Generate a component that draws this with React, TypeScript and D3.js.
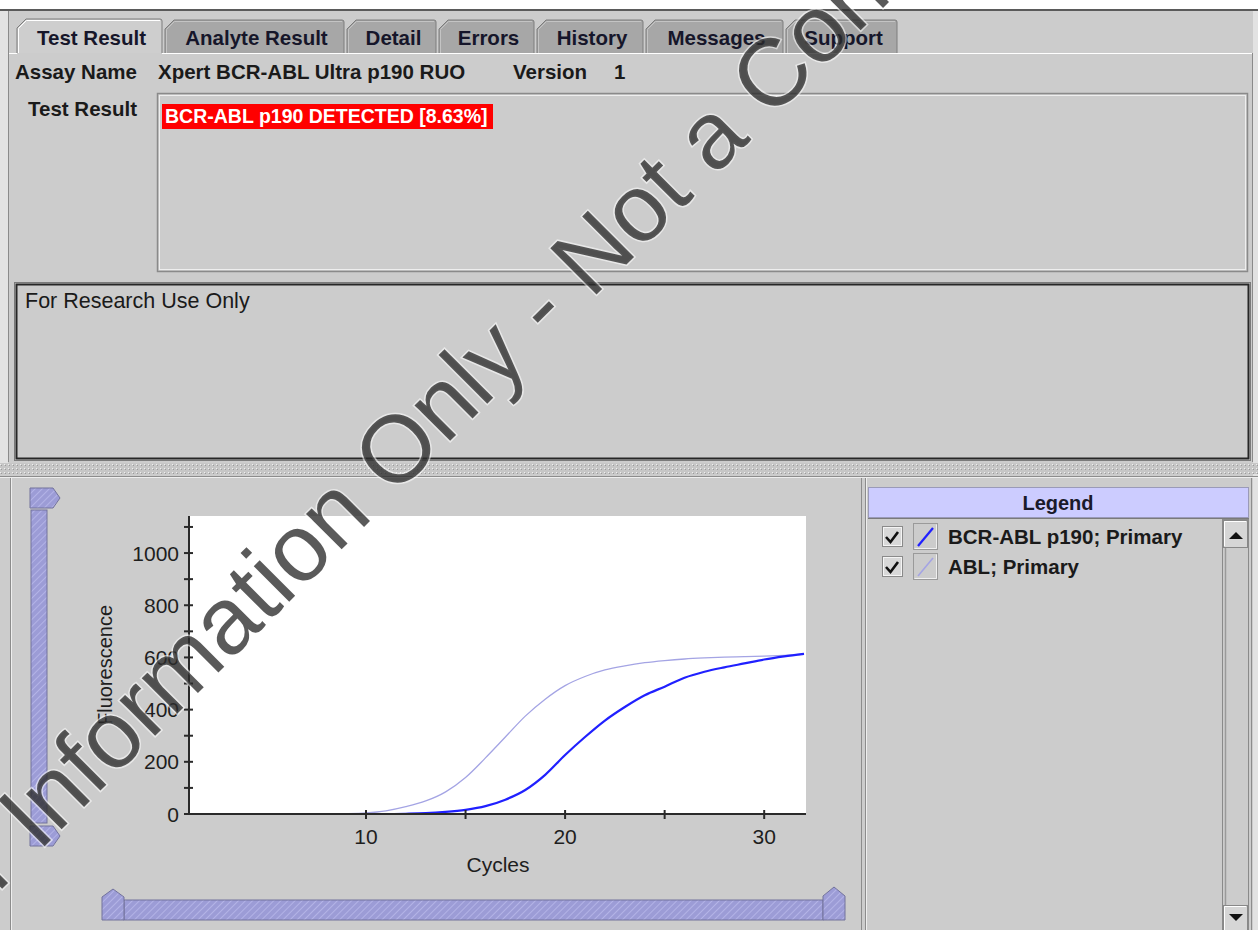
import React from "react";
import * as d3 from "d3";

// ---------- data ----------
const tabLabels = ["Test Result", "Analyte Result", "Detail", "Errors", "History", "Messages", "Support"];
const cycles = [1, 2, 3, 4, 5, 6, 7, 8, 9, 10, 11, 12, 13, 14, 15, 16, 17, 18, 19, 20, 21, 22, 23, 24, 25, 26, 27, 28, 29, 30, 31, 32];
const bcrAblP190: (number | null)[] = [null, null, null, null, null, null, null, null, null, 0, 0, 1, 3, 8, 16, 30, 55, 92, 150, 226, 295, 358, 410, 455, 488, 522, 545, 562, 577, 592, 604, 614];
const ablValues: (number | null)[] = [0, 0, 0, 0, 0, 0, 0, 0, 1, 4, 12, 28, 50, 85, 140, 215, 295, 375, 440, 492, 527, 552, 568, 580, 588, 594, 598, 601, 603, 605, 608, 612];
const seriesNames = ["BCR-ABL p190; Primary", "ABL; Primary"];
const seriesColors = ["#2020ff", "#a4a4e4"];
const seriesWidths = [2.2, 1.3];
const yMajorTicks = [0, 200, 400, 600, 800, 1000];
const yMinorTicks = [100, 300, 500, 700, 900, 1100];
const xMajorTicks = [10, 20, 30];
const xMinorTicks = [15, 25];
const xDomain = [1.16, 32.1];
const yDomain = [0, 1142];

const assayName = "Xpert BCR-ABL Ultra p190 RUO";
const versionText = "1";
const resultText = "BCR-ABL p190 DETECTED [8.63%]";
const noteText = "For Research Use Only";
const watermarkText = "For Information Only - Not a Controlled Copy";

// ---------- layout ----------
const W = 1258;
const H = 930;
const SANS = "'Liberation Sans', Arial, Helvetica, sans-serif";
const tabEdges = [
  [17, 162],
  [165, 344],
  [347, 436],
  [439, 534],
  [537, 643],
  [646, 783],
  [786, 897],
];
const plot = { left: 190, right: 806, top: 516, bottom: 814 };

export default function App() {
  const x = d3.scaleLinear().domain(xDomain).range([plot.left, plot.right]);
  const y = d3.scaleLinear().domain(yDomain).range([plot.bottom, plot.top]);
  const mkLine = d3
    .line<number | null>()
    .defined((d) => d != null)
    .x((_, i) => x(cycles[i]))
    .y((d) => y(d as number))
    .curve(d3.curveMonotoneX);
  const series = [bcrAblP190, ablValues];

  const tabTop = 20;
  const tabBottom = 53;

  return (
    <svg
      width={W}
      height={H}
      viewBox={`0 0 ${W} ${H}`}
      style={{ position: "absolute", left: 0, top: 0, display: "block" }}
      fontFamily={SANS}
    >
      <defs>
        <pattern id="hatch" width="5" height="5" patternUnits="userSpaceOnUse" patternTransform="rotate(45)">
          <rect width="5" height="5" fill="#9c9cd6" />
          <line x1="0" y1="0" x2="0" y2="5" stroke="#b9b9ea" strokeWidth="1.6" />
        </pattern>
        <pattern id="dots" width="4" height="4" patternUnits="userSpaceOnUse">
          <rect width="4" height="4" fill="#c6c6c6" />
          <rect x="0" y="0" width="1" height="1" fill="#efefef" />
          <rect x="1" y="1" width="1" height="1" fill="#9c9c9c" />
        </pattern>
        <clipPath id="plotClip">
          <rect x={plot.left} y={plot.top} width={plot.right - plot.left} height={plot.bottom - plot.top + 2} />
        </clipPath>
      </defs>

      {/* window background */}
      <rect x={0} y={0} width={W} height={H} fill="#cccccc" />
      <rect x={0} y={0} width={W} height={9} fill="#ffffff" />
      <rect x={0} y={9} width={W} height={2} fill="#5a5a5a" />
      <rect x={0} y={11} width={8} height={460} fill="#e2e2e2" />
      <line x1={8.5} y1={11} x2={8.5} y2={462} stroke="#8a8a8a" />
      <rect x={1253} y={11} width={5} height={H} fill="#e2e2e2" />
      <line x1={1252.5} y1={53} x2={1252.5} y2={462} stroke="#8a8a8a" />

      {/* tabs */}
      {tabLabels.map((label, i) => {
        const [l, r] = tabEdges[i];
        const sel = i === 0;
        const t = sel ? tabTop - 1 : tabTop;
        const d = `M${l},${tabBottom} V${t + 9} L${l + 9},${t} H${r - 2} Q${r},${t} ${r},${t + 2} V${tabBottom}`;
        return (
          <g key={label}>
            <path d={d} fill={sel ? "#cecece" : "#a7a7a7"} stroke="#7c7c7c" strokeWidth={1} />
            <path
              d={`M${l + 1.5},${tabBottom} V${t + 9.5} L${l + 9.5},${t + 1.5} H${r - 2}`}
              fill="none"
              stroke={sel ? "#ffffff" : "#c4c4c4"}
              strokeWidth={1}
            />
            <text
              x={(l + r) / 2 + 2}
              y={45}
              textAnchor="middle"
              fontSize={20.5}
              fontWeight="bold"
              fill="#16162a"
            >
              {label}
            </text>
          </g>
        );
      })}
      {/* content top edge */}
      <line x1={9} y1={53.5} x2={tabEdges[0][0]} y2={53.5} stroke="#ffffff" />
      <line x1={tabEdges[0][1]} y1={53.5} x2={1252} y2={53.5} stroke="#ffffff" />

      {/* assay row */}
      <text x={15} y={79} fontSize={20.5} fontWeight="bold" fill="#1a1a1a">Assay Name</text>
      <text x={158} y={79} fontSize={20.5} fontWeight="bold" fill="#1a1a1a">{assayName}</text>
      <text x={513} y={79} fontSize={20.5} fontWeight="bold" fill="#1a1a1a">Version</text>
      <text x={614} y={79} fontSize={20.5} fontWeight="bold" fill="#1a1a1a">{versionText}</text>

      {/* test result */}
      <text x={28} y={116} fontSize={20.5} fontWeight="bold" fill="#1a1a1a">Test Result</text>
      <rect x={157.5} y={93.5} width={1090} height={178} fill="#cccccc" stroke="#8a8a8a" strokeWidth={1.5} />
      <rect x={159.5} y={95.5} width={1086} height={174} fill="none" stroke="#eeeeee" strokeWidth={1} />
      <rect x={162} y={104} width={331} height={25} fill="#ff0000" />
      <text x={165} y={123} fontSize={19.5} fontWeight="bold" fill="#ffffff">{resultText}</text>

      {/* research box */}
      <rect x={14.5} y={282.5} width={1236} height={178} fill="#cccccc" stroke="#7a7a7a" strokeWidth={1} />
      <rect x={16.5} y={284.5} width={1232} height={174} fill="none" stroke="#262626" strokeWidth={2} />
      <text x={25} y={308} fontSize={21.5} fill="#1a1a1a">{noteText}</text>

      {/* splitter */}
      <rect x={0} y={463} width={W} height={11} fill="url(#dots)" />
      <line x1={0} y1={476.5} x2={W} y2={476.5} stroke="#8c8c8c" />
      <line x1={0} y1={477.5} x2={W} y2={477.5} stroke="#eeeeee" />

      {/* chart panel borders */}
      <line x1={10.5} y1={478} x2={10.5} y2={H} stroke="#8c8c8c" />
      <line x1={11.5} y1={478} x2={11.5} y2={H} stroke="#eeeeee" />
      <line x1={861.5} y1={478} x2={861.5} y2={H} stroke="#8c8c8c" />
      <line x1={865.5} y1={478} x2={865.5} y2={H} stroke="#8c8c8c" />
      <line x1={866.5} y1={478} x2={866.5} y2={H} stroke="#eeeeee" />
      <line x1={1251.5} y1={478} x2={1251.5} y2={H} stroke="#8c8c8c" />

      {/* vertical slider */}
      <rect x={31} y={510} width={16} height={313} fill="url(#hatch)" stroke="#72729c" />
      <path d="M30,488 H53 L60,498 L53,508 H30 Z" fill="url(#hatch)" stroke="#72729c" />
      <path d="M30,826 H53 L60,836 L53,846 H30 Z" fill="url(#hatch)" stroke="#72729c" />

      {/* horizontal slider */}
      <rect x={124} y={900} width={699} height={20} fill="url(#hatch)" stroke="#72729c" />
      <path d="M102,920 V897 L113,889 L124,897 V920 Z" fill="url(#hatch)" stroke="#72729c" />
      <path d="M823,920 V896 L834,887 L845,896 V920 Z" fill="url(#hatch)" stroke="#72729c" />

      {/* plot area */}
      <rect x={plot.left} y={plot.top} width={plot.right - plot.left} height={plot.bottom - plot.top} fill="#ffffff" />
      <g clipPath="url(#plotClip)">
        {series
          .map((vals, i) => (
            <path
              key={seriesNames[i]}
              d={mkLine(vals) || ""}
              fill="none"
              stroke={seriesColors[i]}
              strokeWidth={seriesWidths[i]}
            />
          ))
          .reverse()}
      </g>

      {/* axes */}
      <line x1={plot.left - 1} y1={plot.top} x2={plot.left - 1} y2={plot.bottom + 1} stroke="#2a2a2a" strokeWidth={2} />
      <line x1={plot.left - 2} y1={plot.bottom} x2={plot.right} y2={plot.bottom} stroke="#2a2a2a" strokeWidth={2} />
      {[...yMajorTicks, ...yMinorTicks].map((t) => (
        <line key={"yt" + t} x1={plot.left - 6} x2={plot.left + 3} y1={y(t)} y2={y(t)} stroke="#2a2a2a" strokeWidth={2} />
      ))}
      {yMajorTicks.map((t) => (
        <text key={"yl" + t} x={plot.left - 11} y={y(t) + 7.5} textAnchor="end" fontSize={21} fill="#1e1e1e">
          {t}
        </text>
      ))}
      {[...xMajorTicks, ...xMinorTicks].map((t) => (
        <line key={"xt" + t} x1={x(t)} x2={x(t)} y1={plot.bottom - 4} y2={plot.bottom + 5} stroke="#2a2a2a" strokeWidth={2} />
      ))}
      {xMajorTicks.map((t) => (
        <text key={"xl" + t} x={x(t)} y={844} textAnchor="middle" fontSize={21} fill="#1e1e1e">
          {t}
        </text>
      ))}
      <text x={(plot.left + plot.right) / 2} y={872} textAnchor="middle" fontSize={21} fill="#1e1e1e">
        Cycles
      </text>
      <text transform={`translate(112,${(plot.top + plot.bottom) / 2}) rotate(-90)`} textAnchor="middle" fontSize={20} fill="#1e1e1e">
        Fluorescence
      </text>

      {/* legend */}
      <rect x={868.5} y={487.5} width={1381 - 1} height={0} fill="none" />
      <rect x={868.5} y={487.5} width={380} height={30} fill="#ccccff" stroke="#9a9ab8" />
      <line x1={868} y1={518.5} x2={1249} y2={518.5} stroke="#7a7a7a" />
      <text x={1058} y={510} textAnchor="middle" fontSize={20} fontWeight="bold" fill="#1a1a2a">Legend</text>
      {seriesNames.map((name, i) => {
        const cy = 537 + i * 30;
        return (
          <g key={name}>
            <rect x={882.5} y={cy - 10.5} width={20} height={20} fill="#d8d8d8" stroke="#8a8a8a" />
            <rect x={883.5} y={cy - 9.5} width={18} height={18} fill="none" stroke="#f4f4f4" />
            <path d={`M886,${cy} L890.5,${cy + 5} L898,${cy - 5}`} fill="none" stroke="#111" strokeWidth={2.6} />
            <rect x={913.5} y={cy - 13.5} width={24} height={26} fill="#cccccc" stroke="#9a9a9a" />
            <line x1={914.5} y1={cy + 11.5} x2={936.5} y2={cy + 11.5} stroke="#f0f0f0" />
            <line x1={936.5} y1={cy - 12.5} x2={936.5} y2={cy + 11.5} stroke="#f0f0f0" />
            <line x1={918} y1={cy + 9} x2={933} y2={cy - 9} stroke={seriesColors[i]} strokeWidth={i === 0 ? 2.2 : 1.6} />
            <text x={948} y={cy + 7} fontSize={20.5} fontWeight="bold" fill="#1a1a1a">{name}</text>
          </g>
        );
      })}

      {/* scrollbar */}
      <rect x={1222.5} y={519.5} width={26} height={411} fill="#cccccc" stroke="#8a8a8a" />
      <line x1={1225.5} y1={548} x2={1225.5} y2={905} stroke="#9a9a9a" strokeWidth={1.5} />
      <rect x={1223.5} y={520.5} width={24} height={27} fill="#d6d6d6" stroke="#888" />
      <path d="M1224.5,546 V521.5 H1246" fill="none" stroke="#ffffff" />
      <path d="M1229,539 L1236,532 L1243,539 Z" fill="#111" />
      <rect x={1223.5} y={905.5} width={24} height={27} fill="#d6d6d6" stroke="#888" />
      <path d="M1224.5,931 V906.5 H1246" fill="none" stroke="#ffffff" />
      <path d="M1229,914 L1243,914 L1236,921 Z" fill="#111" />

      {/* watermark */}
      <text
        transform="translate(-81,972) rotate(-45)"
        fontSize={95}
        fill="#2c2c2c"
        fillOpacity={0.78}
        stroke="#ffffff"
        strokeOpacity={0.55}
        strokeWidth={3}
        style={{ paintOrder: "stroke" }}
      >
        {watermarkText}
      </text>
    </svg>
  );
}
